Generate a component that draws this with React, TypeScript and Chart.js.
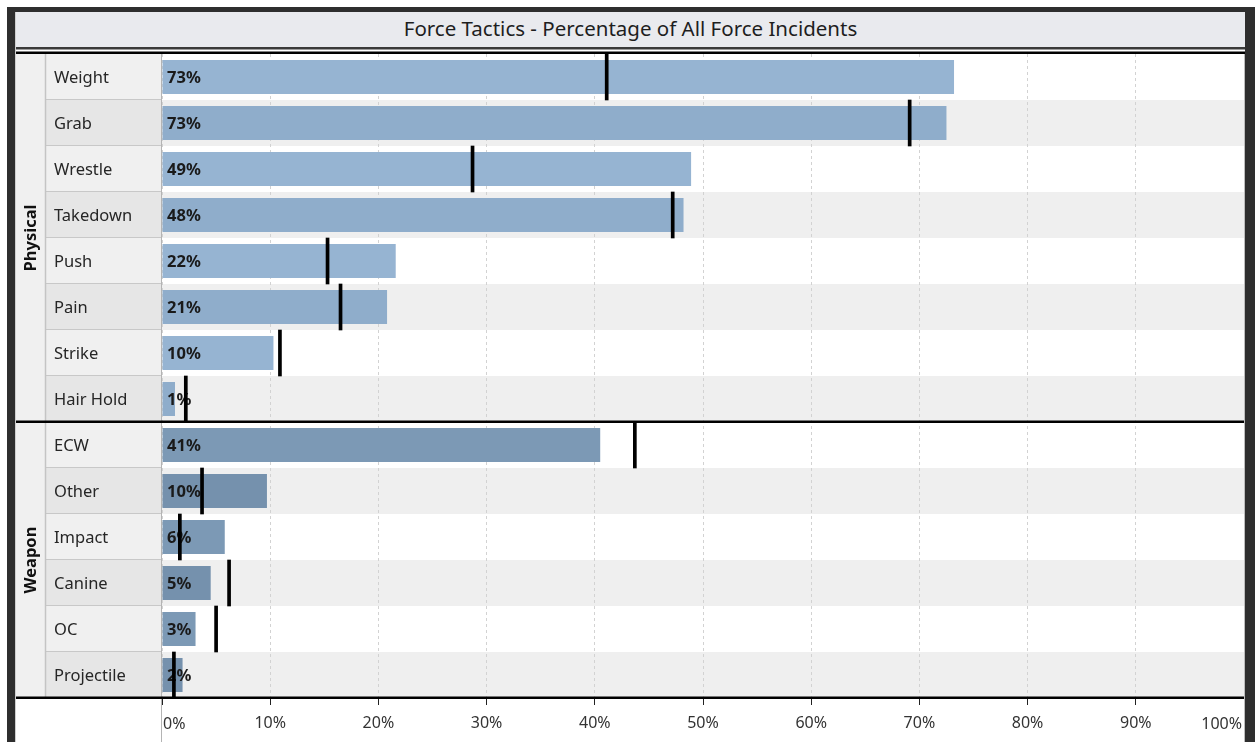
import React, { useEffect, useRef } from "react";
import { Chart, registerables } from "chart.js";

Chart.register(...registerables);

const chartTitle = "Force Tactics - Percentage of All Force Incidents";
const categories = [
  "Weight", "Grab", "Wrestle", "Takedown", "Push", "Pain", "Strike", "Hair Hold",
  "ECW", "Other", "Impact", "Canine", "OC", "Projectile",
];
const groupNames = ["Physical", "Weapon"];
const groupSizes = [8, 6];
const percentValues = [73.2, 72.5, 48.9, 48.2, 21.6, 20.8, 10.3, 1.2, 40.5, 9.7, 5.8, 4.5, 3.1, 1.9];
const benchmarkValues = [41.1, 69.1, 28.7, 47.2, 15.3, 16.5, 10.9, 2.2, 43.7, 3.7, 1.65, 6.2, 5.0, 1.1];
const xTickValues = [0, 10, 20, 30, 40, 50, 60, 70, 80, 90, 100];
const xTickLabels = ["0%", "10%", "20%", "30%", "40%", "50%", "60%", "70%", "80%", "90%", "100%"];

const W = 1255;
const H = 742;
const FONT = "'Segoe UI', 'Noto Sans', 'Open Sans', sans-serif";
const MARKER_HALF = 0.14;

function groupOf(i: number): number {
  let acc = 0;
  for (let g = 0; g < groupSizes.length; g++) {
    acc += groupSizes[g];
    if (i < acc) return g;
  }
  return groupSizes.length - 1;
}

const barColors = categories.map((_, i) => {
  const g = groupOf(i);
  const odd = i % 2 === 1;
  if (g === 0) return odd ? "#8fadcb" : "#96b4d2";
  return odd ? "#7591ad" : "#7c99b5";
});

const framePlugin = {
  id: "framePlugin",
  beforeDraw(chart: any) {
    const { ctx, chartArea, scales } = chart;
    const { left, right, top, bottom } = chartArea;
    const y = scales.y;
    ctx.save();
    ctx.fillStyle = "#f0f0f0";
    ctx.fillRect(16, top, 30, bottom - top);
    for (let i = 0; i < categories.length; i++) {
      const rt = y.getPixelForValue(i - 0.5);
      const rb = y.getPixelForValue(i + 0.5);
      ctx.fillStyle = i % 2 ? "#efefef" : "#ffffff";
      ctx.fillRect(left, rt, right - left, rb - rt);
      ctx.fillStyle = i % 2 ? "#e6e6e6" : "#f0f0f0";
      ctx.fillRect(46, rt, left - 46, rb - rt);
      ctx.strokeStyle = "#c8c8c8";
      ctx.lineWidth = 1;
      ctx.beginPath();
      ctx.moveTo(46, Math.round(rb) - 0.5);
      ctx.lineTo(left, Math.round(rb) - 0.5);
      ctx.stroke();
    }
    ctx.strokeStyle = "#c4c4c4";
    ctx.lineWidth = 1.5;
    ctx.beginPath();
    ctx.moveTo(45.5, top);
    ctx.lineTo(45.5, bottom);
    ctx.stroke();
    ctx.strokeStyle = "#b4b4b4";
    ctx.lineWidth = 1;
    ctx.beginPath();
    ctx.moveTo(left - 0.5, top);
    ctx.lineTo(left - 0.5, H);
    ctx.stroke();
    ctx.beginPath();
    ctx.moveTo(15.5, 12);
    ctx.lineTo(15.5, H);
    ctx.strokeStyle = "#cfcfcf";
    ctx.stroke();
    ctx.restore();
  },
  afterDatasetDraw(chart: any, args: any) {
    if (args.index !== 0) return;
    const { ctx, scales } = chart;
    const x = scales.x;
    const y = scales.y;
    ctx.save();
    ctx.font = `bold 16.5px ${FONT}`;
    ctx.fillStyle = "#1a1a1a";
    ctx.textAlign = "left";
    ctx.textBaseline = "middle";
    percentValues.forEach((v, i) => {
      ctx.fillText(`${Math.round(v)}%`, x.getPixelForValue(0) + 5, y.getPixelForValue(i) + 1.5);
    });
    ctx.restore();
  },
  afterDraw(chart: any) {
    const { ctx, chartArea, scales } = chart;
    const { right, top, bottom } = chartArea;
    const x = scales.x;
    const y = scales.y;
    ctx.save();
    ctx.fillStyle = "#3a3a3a";
    ctx.fillRect(16, 47, right + 1 - 16, 2.5);
    ctx.fillStyle = "#000";
    ctx.fillRect(16, 51.5, right + 1 - 16, 2.5);
    ctx.strokeStyle = "#bdbdbd";
    ctx.lineWidth = 1;
    ctx.beginPath();
    ctx.moveTo(right + 0.5, top);
    ctx.lineTo(right + 0.5, H);
    ctx.stroke();
    let start = 0;
    groupNames.forEach((name, g) => {
      const end = start + groupSizes[g];
      const gt = y.getPixelForValue(start - 0.5);
      const gb = y.getPixelForValue(end - 0.5);
      ctx.save();
      ctx.translate(31, (gt + gb) / 2);
      ctx.rotate(-Math.PI / 2);
      ctx.font = `bold 16.5px ${FONT}`;
      ctx.fillStyle = "#111";
      ctx.textAlign = "center";
      ctx.textBaseline = "middle";
      ctx.fillText(name, 0, 0);
      ctx.restore();
      ctx.fillStyle = "#000";
      ctx.fillRect(16, Math.round(gb) - 1.5, right - 16, 2.5);
      start = end;
    });
    ctx.font = `16px ${FONT}`;
    ctx.fillStyle = "#333";
    ctx.textBaseline = "middle";
    ctx.textAlign = "left";
    ctx.fillText(xTickLabels[0], x.getPixelForValue(xTickValues[0]) + 1, bottom + 26);
    ctx.textAlign = "right";
    const last = xTickValues.length - 1;
    ctx.fillText(xTickLabels[last], x.getPixelForValue(xTickValues[last]) - 2, bottom + 26);
    ctx.restore();
  },
};

export default function App() {
  const ref = useRef<HTMLCanvasElement | null>(null);
  useEffect(() => {
    if (!ref.current) return;
    const chart = new Chart(ref.current, {
      type: "bar",
      data: {
        labels: categories,
        datasets: [
          {
            label: "Percent",
            data: percentValues,
            backgroundColor: barColors,
            barPercentage: 0.74,
            categoryPercentage: 1,
            grouped: false,
            order: 2,
          } as any,
          {
            label: "Benchmark",
            data: benchmarkValues.map((v) => [v - MARKER_HALF, v + MARKER_HALF]),
            backgroundColor: "#000000",
            barPercentage: 1,
            categoryPercentage: 1,
            grouped: false,
            order: 1,
          } as any,
        ],
      },
      options: {
        indexAxis: "y",
        responsive: false,
        animation: false,
        devicePixelRatio: 1,
        layout: { padding: { left: 54, right: 11, top: 54, bottom: 0 } },
        plugins: {
          legend: { display: false },
          tooltip: { enabled: false },
          title: { display: false },
        },
        scales: {
          x: {
            type: "linear",
            position: "bottom",
            min: 0,
            max: 100,
            afterFit: (s: any) => {
              s.height = 44;
            },
            afterBuildTicks: (s: any) => {
              s.ticks = xTickValues.map((v) => ({ value: v }));
            },
            ticks: {
              autoSkip: false,
              maxRotation: 0,
              padding: 9,
              color: "#333",
              font: { family: FONT, size: 16 },
              callback: (v: any) => {
                const idx = xTickValues.indexOf(Number(v));
                if (idx <= 0 || idx === xTickValues.length - 1) return "";
                return xTickLabels[idx];
              },
            },
            grid: {
              color: "#d2d2d2",
              lineWidth: 1,
              tickColor: "#222",
              tickLength: 7,
              tickWidth: 1,
            },
            border: { display: true, color: "#000", width: 2, dash: [3, 3] },
          },
          y: {
            type: "category",
            afterFit: (s: any) => {
              s.width = 108;
            },
            ticks: {
              crossAlign: "far",
              autoSkip: false,
              labelOffset: 1.5,
              color: "#262626",
              font: { family: FONT, size: 16.5 },
            },
            grid: { display: false, drawTicks: false },
            border: { display: false },
          },
        },
      } as any,
      plugins: [framePlugin],
    });
    return () => chart.destroy();
  }, []);

  return (
    <div style={{ position: "absolute", left: 0, top: 0, width: W, height: H, background: "#fff", overflow: "hidden" }}>
      <canvas ref={ref} width={W} height={H} style={{ position: "absolute", left: 0, top: 0, display: "block" }} />
      <div style={{ position: "absolute", left: 7, top: 7, width: 8, height: H - 7, background: "#2e2e2e" }} />
      <div style={{ position: "absolute", left: 7, top: 7, width: W - 7, height: 5, background: "#2e2e2e" }} />
      <div style={{ position: "absolute", left: 1245, top: 7, width: 10, height: H - 7, background: "#2e2e2e" }} />
      <div
        style={{
          position: "absolute",
          left: 16,
          top: 12,
          width: 1229,
          height: 35,
          background: "#e9eaee",
          color: "#1e1e1e",
          fontFamily: FONT,
          fontSize: 20.5,
          lineHeight: "33px",
          textAlign: "center",
          whiteSpace: "nowrap",
        }}
      >
        {chartTitle}
      </div>
    </div>
  );
}
